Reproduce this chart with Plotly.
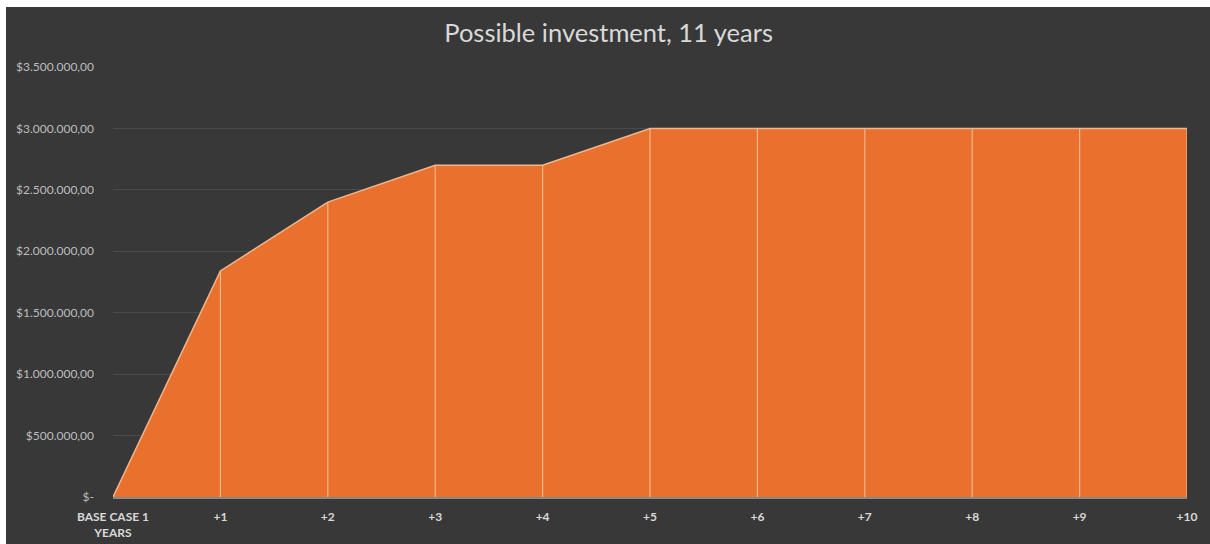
import plotly.graph_objects as go

# Categories and invested amounts per year
categories = ["BASE CASE 1<br>YEARS", "+1", "+2", "+3", "+4", "+5",
              "+6", "+7", "+8", "+9", "+10"]
investment = [0, 1840000, 2400000, 2700000, 2700000, 3000000,
              3000000, 3000000, 3000000, 3000000, 3000000]
y_ticks = [0, 500000, 1000000, 1500000, 2000000, 2500000, 3000000, 3500000]
y_tick_labels = ["$-", "$500.000,00", "$1.000.000,00", "$1.500.000,00",
                 "$2.000.000,00", "$2.500.000,00", "$3.000.000,00",
                 "$3.500.000,00"]

xs = list(range(len(categories)))

BG = "#383838"
FILL = "#E9712D"
EDGE = "#F3B58C"

fig = go.Figure()

# Filled area
fig.add_trace(go.Scatter(
    x=xs, y=investment, mode="lines", fill="tozeroy",
    fillcolor=FILL, line=dict(color=EDGE, width=1.5),
    hoverinfo="skip", showlegend=False,
))

# Drop lines from each category point down to the axis
drop_x, drop_y = [], []
for x, v in zip(xs[1:], investment[1:]):
    drop_x += [x, x, None]
    drop_y += [0, v, None]
fig.add_trace(go.Scatter(
    x=drop_x, y=drop_y, mode="lines",
    line=dict(color=EDGE, width=1.2),
    hoverinfo="skip", showlegend=False,
))

W, H = 1210, 544
L, R, T, B = 113, 23, 67, 47
pw, ph = W - L - R, H - T - B

def px_x(p):
    return (p - L) / pw

def px_y(p):
    return (H - B - p) / ph

fig.update_layout(
    width=W, height=H,
    margin=dict(l=L, r=R, t=T, b=B, pad=0, autoexpand=False),
    paper_bgcolor=BG, plot_bgcolor=BG,
    title=dict(text="Possible investment, 11 years", x=0.503,
               xref="container", xanchor="center",
               y=1 - 33 / H, yref="container", yanchor="middle",
               automargin=False,
               font=dict(family="Lato, Open Sans, sans-serif", size=25.5,
                         color="#D9D9D9")),
    xaxis=dict(range=[0, 10], tickmode="array", tickvals=xs,
               ticktext=categories, showgrid=False, zeroline=False,
               showline=True, linecolor="#8A8A8A", linewidth=1.5,
               ticks="", ticklen=0, ticklabelstandoff=8, automargin=False,
               tickfont=dict(family="Lato, Open Sans, sans-serif", size=12,
                             color="#D9D9D9", weight="bold")),
    yaxis=dict(range=[0, 3500000], tickmode="array", tickvals=y_ticks,
               ticktext=y_tick_labels, showgrid=True, gridcolor="#4B4B4B",
               gridwidth=1, zeroline=False, showline=False, ticks="",
               ticklabelstandoff=18, automargin=False,
               tickfont=dict(family="Lato, Open Sans, sans-serif", size=12,
                             color="#BDBDBD")),
    shapes=[
        # white frame strips at top and left edges
        dict(type="rect", xref="paper", yref="paper",
             x0=px_x(0), x1=px_x(W), y0=px_y(7), y1=px_y(0),
             fillcolor="white", line=dict(width=0), layer="above"),
        dict(type="rect", xref="paper", yref="paper",
             x0=px_x(0), x1=px_x(6), y0=px_y(H), y1=px_y(0),
             fillcolor="white", line=dict(width=0), layer="above"),
    ],
)

fig.write_html("out.html")
